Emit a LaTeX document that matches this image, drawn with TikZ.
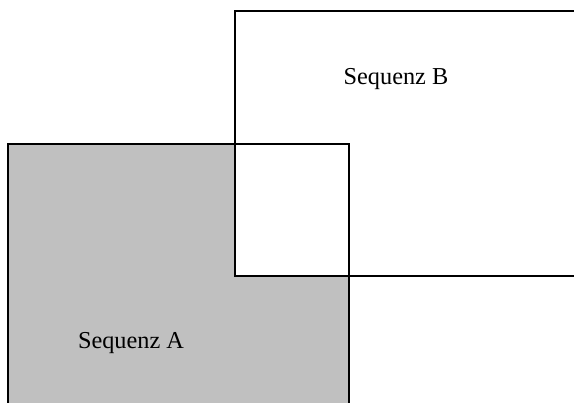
\documentclass[tikz,border=0pt]{standalone}
\usepackage{fontspec}
\setmainfont{Liberation Serif}
\definecolor{seqgrey}{RGB}{192,192,192}
\begin{document}
\begin{tikzpicture}[x=1pt,y=-1pt,
  seqbox/.style={draw=black,line width=1.3pt},
  seqlabel/.style={anchor=base,inner sep=0pt,font=\fontsize{24.3}{29}\selectfont}]
  \useasboundingbox (0,0) rectangle (574,403);
  \clip (0,0) rectangle (574,403);
  % sequence A (grey), open at the bottom edge
  \fill[seqgrey] (8,144) rectangle (349,420);
  \draw[seqbox] (8,420) -- (8,144) -- (349,144) -- (349,420);
  % sequence B (white), drawn on top, open at the right edge
  \filldraw[seqbox,fill=white] (590,11) -- (235,11) -- (235,276) -- (590,276);
  % border of A inside B stays visible
  \draw[seqbox] (235,144) -- (349,144) -- (349,276);
  \node[seqlabel] (labA) at (131,349) {Sequenz A};
  \node[seqlabel] (labB) at (396,85) {Sequenz B};
\end{tikzpicture}
\end{document}
